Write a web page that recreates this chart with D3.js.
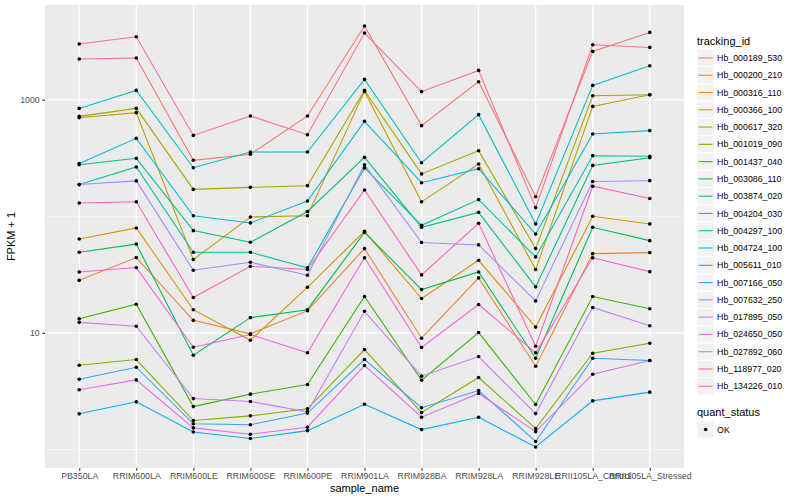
<!DOCTYPE html>
<html>
<head>
<meta charset="utf-8">
<script src="https://cdn.jsdelivr.net/npm/d3@7"></script>
<style>
  body { margin:0; background:#fff; }
  text { font-family:"Liberation Sans", Arial, Helvetica, sans-serif; }
</style>
</head>
<body>
<svg id="chart" width="800" height="500"></svg>
<script>

var samples = ["PB350LA","RRIM600LA","RRIM600LE","RRIM600SE","RRIM600PE","RRIM901LA",
               "RRIM928BA","RRIM928LA","RRIM928LE","RRII105LA_Control","RRII105LA_Stressed"];

var trackingIds = ["Hb_000189_530","Hb_000200_210","Hb_000316_110","Hb_000366_100","Hb_000617_320",
  "Hb_001019_090","Hb_001437_040","Hb_003086_110","Hb_003874_020","Hb_004204_030",
  "Hb_004297_100","Hb_004724_100","Hb_005611_010","Hb_007166_050","Hb_007632_250",
  "Hb_017895_050","Hb_024650_050","Hb_027892_060","Hb_118977_020","Hb_134226_010"];

// FPKM + 1, one value per sample
var Hb_000189_530 = [2233, 2278, 302, 340, 725, 4283, 599, 1427, 147, 2595, 3776];
var Hb_000200_210 = [28.2, 44.2, 12.8, 9.8, 15.5, 52.8, 8.99, 29.6, 5.17, 47.8, 48.8];
var Hb_000316_110 = [63.9, 79.4, 15.8, 8.64, 24.6, 74.3, 19.7, 41.9, 11.2, 99.9, 86.0];
var Hb_000366_100 = [701, 774, 42.5, 98.7, 101, 1178, 133, 281, 34.9, 876, 1104];
var Hb_000617_320 = [719, 842, 170, 177, 183, 1202, 231, 365, 52.8, 1082, 1104];
var Hb_001019_090 = [5.27, 5.9, 1.77, 1.94, 2.23, 7.19, 2.07, 4.14, 1.51, 6.69, 8.14];
var Hb_001437_040 = [13.2, 17.6, 2.33, 2.98, 3.6, 20.5, 3.92, 10.06, 2.43, 20.5, 16.1];
var Hb_003086_110 = [49.1, 57.7, 6.43, 13.5, 15.8, 72.8, 23.5, 33.3, 6.06, 80.4, 61.8];
var Hb_003874_020 = [277, 314, 75.3, 59.8, 110, 320, 80.4, 108, 24.8, 273, 318];
var Hb_004204_030 = [187, 265, 49.1, 49.1, 36.1, 260, 83.6, 139, 44.8, 331, 327];
var Hb_004297_100 = [842, 1202, 261, 356, 356, 1493, 288, 744, 86, 1326, 1956];
var Hb_004724_100 = [283, 466, 101, 87.7, 135, 652, 194, 256, 70.3, 508, 543];
var Hb_005611_010 = [2.02, 2.56, 1.41, 1.24, 1.45, 2.44, 1.48, 1.89, 1.05, 2.61, 3.1];
var Hb_007166_050 = [4.0, 5.07, 1.66, 1.63, 2.05, 5.9, 2.28, 3.2, 1.17, 6.06, 5.79];
var Hb_007632_250 = [187, 201, 34.4, 40.3, 31.2, 276, 59.5, 56.8, 18.8, 199, 202];
var Hb_017895_050 = [12.3, 11.4, 2.73, 2.58, 2.1, 15.3, 4.25, 6.26, 2.03, 16.5, 11.5];
var Hb_024650_050 = [3.25, 3.95, 1.53, 1.35, 1.55, 5.24, 1.89, 3.02, 1.42, 4.42, 5.79];
var Hb_027892_060 = [33.3, 36.3, 7.53, 9.67, 6.74, 44.0, 7.48, 17.5, 6.74, 44.0, 33.5];
var Hb_118977_020 = [130, 133, 20.1, 37.2, 34.9, 168, 31.4, 87.0, 7.68, 181, 142];
var Hb_134226_010 = [3000, 3470, 494, 725, 501, 3730, 1172, 1783, 118.7, 2961, 2808];

var seriesValues = [Hb_000189_530, Hb_000200_210, Hb_000316_110, Hb_000366_100, Hb_000617_320,
  Hb_001019_090, Hb_001437_040, Hb_003086_110, Hb_003874_020, Hb_004204_030,
  Hb_004297_100, Hb_004724_100, Hb_005611_010, Hb_007166_050, Hb_007632_250,
  Hb_017895_050, Hb_024650_050, Hb_027892_060, Hb_118977_020, Hb_134226_010];

var quantStatus = ["OK"];
var yTicks = [10, 1000];
var yMinorTicks = [1, 100];

// ggplot hue palette for 20 levels
var hueColours = ["#F8766D","#EA8331","#D89000","#C09B00","#A3A500","#7CAE00","#39B600","#00BB4E",
  "#00BF7D","#00C1A3","#00BFC4","#00BAE0","#00B0F6","#35A2FF","#9590FF","#C77CFF","#E76BF3",
  "#FA62DB","#FF62BC","#FF6C91"];

var series = trackingIds.map(function(id, i) {
  return { id:id, colour:hueColours[i],
    points: samples.map(function(s, j) { return { sample:s, value:seriesValues[i][j] }; }) };
});

var svg = d3.select("#chart");
svg.append("rect").attr("width",800).attr("height",500).attr("fill","white");

var P = { left:45, right:684, top:5, bottom:468 };

var x = d3.scalePoint().domain(samples).range([P.left, P.right]).padding(0.6);

// log range with ggplot's 5% expansion
var allVals = d3.merge(seriesValues);
var lo = Math.log10(d3.min(allVals)), hi = Math.log10(d3.max(allVals));
var pad = (hi - lo) * 0.05;
var y = d3.scaleLog().domain([Math.pow(10, lo - pad), Math.pow(10, hi + pad)]).range([P.bottom, P.top]);

// panel
svg.append("rect")
  .attr("x",P.left).attr("y",P.top)
  .attr("width",P.right-P.left).attr("height",P.bottom-P.top)
  .attr("fill","#EBEBEB");

var grid = svg.append("g");
grid.selectAll("line.minor").data(yMinorTicks).enter().append("line")
  .attr("x1",P.left).attr("x2",P.right)
  .attr("y1",function(d) { return y(d); }).attr("y2",function(d) { return y(d); })
  .attr("stroke","white").attr("stroke-width",0.55);
grid.selectAll("line.major").data(yTicks).enter().append("line")
  .attr("x1",P.left).attr("x2",P.right)
  .attr("y1",function(d) { return y(d); }).attr("y2",function(d) { return y(d); })
  .attr("stroke","white").attr("stroke-width",1.1);
grid.selectAll("line.vert").data(samples).enter().append("line")
  .attr("x1",function(d) { return x(d); }).attr("x2",function(d) { return x(d); })
  .attr("y1",P.top).attr("y2",P.bottom)
  .attr("stroke","white").attr("stroke-width",1.1);

// lines then points
var line = d3.line()
  .x(function(d) { return x(d.sample); })
  .y(function(d) { return y(d.value); });

svg.append("g").selectAll("path").data(series).enter().append("path")
  .attr("d",function(d) { return line(d.points); })
  .attr("fill","none")
  .attr("stroke",function(d) { return d.colour; })
  .attr("stroke-width",1.07);

svg.append("g").selectAll("g").data(series).enter().append("g")
  .selectAll("circle").data(function(d) { return d.points; }).enter().append("circle")
    .attr("cx",function(d) { return x(d.sample); })
    .attr("cy",function(d) { return y(d.value); })
    .attr("r",1.8)
    .attr("fill","black");

// axes
var xAxis = svg.append("g").attr("transform","translate(0," + P.bottom + ")")
  .call(d3.axisBottom(x).tickSize(2.75).tickPadding(2.5));
var yAxis = svg.append("g").attr("transform","translate(" + P.left + ",0)")
  .call(d3.axisLeft(y).tickValues(yTicks).tickFormat(d3.format("d")).tickSize(2.75).tickPadding(2.5));

[xAxis, yAxis].forEach(function(a) {
  a.select(".domain").remove();
  a.selectAll(".tick line").attr("stroke","#333333").attr("stroke-width",1.07);
  a.selectAll(".tick text").attr("fill","#4D4D4D").style("font-size","8.8px")
    .style("font-family","'Liberation Sans', Arial, sans-serif");
});

svg.append("text")
  .attr("x",(P.left+P.right)/2).attr("y",492)
  .attr("text-anchor","middle").style("font-size","11px").attr("fill","black")
  .text("sample_name");

svg.append("text")
  .attr("transform","translate(15," + ((P.top+P.bottom)/2) + ") rotate(-90)")
  .attr("text-anchor","middle").style("font-size","11px").attr("fill","black")
  .text("FPKM + 1");

// legends
var keySize = 17.28;
var legend = svg.append("g").attr("transform","translate(697,0)");

legend.append("text").attr("x",0).attr("y",44.5)
  .style("font-size","11px").attr("fill","black").text("tracking_id");

var keys = legend.selectAll("g.key").data(series).enter().append("g")
  .attr("transform",function(d, i) { return "translate(0," + (49.3 + i*keySize) + ")"; });
keys.append("rect").attr("width",keySize).attr("height",keySize)
  .attr("fill","#F2F2F2").attr("stroke","white").attr("stroke-width",1);
keys.append("line").attr("x1",1.7).attr("x2",keySize-1.7)
  .attr("y1",keySize/2).attr("y2",keySize/2)
  .attr("stroke",function(d) { return d.colour; }).attr("stroke-width",1.07);
keys.append("text").attr("x",keySize+2.8).attr("y",keySize/2).attr("dy","0.35em")
  .style("font-size","8.8px").attr("fill","black")
  .text(function(d) { return d.id; });

legend.append("text").attr("x",0).attr("y",416.3)
  .style("font-size","11px").attr("fill","black").text("quant_status");

var qKeys = legend.selectAll("g.qkey").data(quantStatus).enter().append("g")
  .attr("transform",function(d, i) { return "translate(0," + (420.8 + i*keySize) + ")"; });
qKeys.append("rect").attr("width",keySize).attr("height",keySize)
  .attr("fill","#F2F2F2").attr("stroke","white").attr("stroke-width",1);
qKeys.append("circle").attr("cx",keySize/2).attr("cy",keySize/2).attr("r",1.8).attr("fill","black");
qKeys.append("text").attr("x",keySize+2.8).attr("y",keySize/2).attr("dy","0.35em")
  .style("font-size","8.8px").attr("fill","black")
  .text(function(d) { return d; });

</script>
</body>
</html>
